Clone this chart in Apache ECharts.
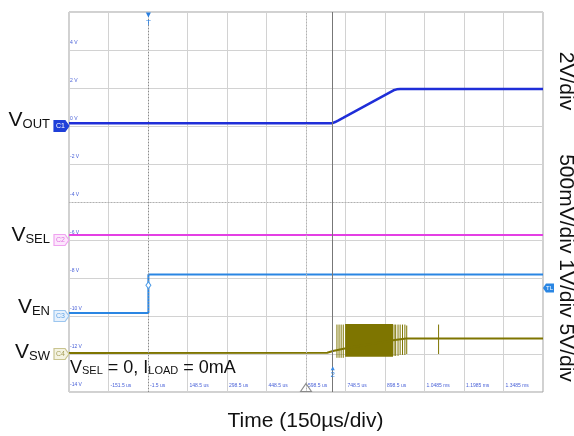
<!DOCTYPE html>
<html><head><meta charset="utf-8">
<script src="https://cdn.jsdelivr.net/npm/echarts@6/dist/echarts.min.js"></script>
<style>html,body{margin:0;padding:0;background:#fff}#c{width:574px;height:436px}</style>
</head><body><div id="c"></div>
<script>
// ---------- data (read from the scope capture) ----------
const timeMin = -301.5, timeMax = 1498.5, timeStep = 150;   // µs, 150 µs/div
const voltMin = -14, voltMax = 6, voltStep = 2;             // screen volts, 2 V/div
const xTickLabels = ['', '-151.5 us', '-1.5 us', '148.5 us', '298.5 us', '448.5 us', '598.5 us',
                     '748.5 us', '898.5 us', '1.0485 ms', '1.1985 ms', '1.3485 ms', ''];
const yTickLabels = ['-14 V', '-12 V', '-10 V', '-8 V', '-6 V', '-4 V', '-2 V', '0 V', '2 V', '4 V', ''];

const voutTime = [-301.5, 699, 709, 722, 741, 931, 943, 956, 1498.5];
const voutVal  = [0.15, 0.15, 0.21, 0.30, 0.44, 1.88, 1.93, 1.95, 1.95];
const vselTime = [-301.5, 1498.5];
const vselVal  = [-5.74, -5.74];
const venTime  = [-301.5, 0, 0, 1498.5];
const venVal   = [-9.84, -9.84, -7.81, -7.81];
const vswTime  = [-301.5, 679, 701, 741, 929, 979, 1498.5];
const vswVal   = [-11.95, -11.93, -11.84, -11.72, -11.28, -11.19, -11.19];
const burstStart = 747, burstEnd = 929, burstHigh = -10.42, burstLow = -12.15;
const spikeTime = [716, 724, 732, 740, 933, 939, 948, 956, 965, 974, 981, 1102];
const spikeHigh = [-10.45, -10.45, -10.45, -10.45, -10.45, -10.45, -10.45, -10.45, -10.45, -10.45, -10.5, -10.45];
const spikeLow  = [-12.2, -12.2, -12.2, -12.2, -12.1, -12.1, -12.1, -12.05, -12.05, -12.05, -12.0, -12.0];

const channelNames  = ['C1', 'C2', 'C3', 'C4'];
const channelGround = [0, -6, -10, -12];
const triggerTime = 0, triggerLevel = -8.38, triggerLevelTag = -8.52;
const cursorTime = 700, cursorTag = -12.75;
const centerTime = (timeMin + timeMax) / 2, centerVolt = (voltMin + voltMax) / 2;

// ---------- styles ----------
const FONT = 'Liberation Sans, Arial, sans-serif';
const C_OUT = '#1f2ed8', C_SEL = '#e43fe4', C_EN = '#2a86e3', C_SW = '#7e7500';
const zip = (a, b) => a.map((t, i) => [t, b[i]]);
const base = { type: 'line', symbol: 'none', showSymbol: false, silent: true, animation: false };
const boxPath = 'path://M0,0L11,0L15,5.5L11,11L0,11Z';
function chMark(i, fill, stroke, txt) {
  return { coord: [timeMin, channelGround[i]], symbol: boxPath, symbolSize: [15, 11], symbolOffset: [-7.5, 0],
    itemStyle: { color: fill, borderColor: stroke, borderWidth: 1 },
    label: { show: true, formatter: channelNames[i], color: txt, fontSize: 7, fontFamily: FONT, offset: [-1, 0] } };
}
const mpBase = { silent: true, animation: false };

const chart = echarts.init(document.getElementById('c'), null, { renderer: 'canvas' });
chart.setOption({
  animation: false,
  backgroundColor: '#fff',
  textStyle: { fontFamily: FONT },
  grid: { left: 69, top: 12, right: 31, bottom: 44, show: true, borderColor: '#a3a3a3', borderWidth: 1, backgroundColor: '#fff' },
  xAxis: {
    type: 'value', min: timeMin, max: timeMax, interval: timeStep,
    axisLine: { show: false }, axisTick: { show: false },
    splitLine: { show: true, lineStyle: { color: '#d2d2d2', width: 1 } },
    axisLabel: { inside: true, showMinLabel: false, showMaxLabel: false, align: 'left', margin: 4,
      padding: [0, 0, 0, 2], fontSize: 5, color: '#4a62d8',
      formatter: v => xTickLabels[Math.round((v - timeMin) / timeStep)] || '' }
  },
  yAxis: {
    type: 'value', min: voltMin, max: voltMax, interval: voltStep,
    axisLine: { show: false }, axisTick: { show: false },
    splitLine: { show: true, lineStyle: { color: '#d2d2d2', width: 1 } },
    axisLabel: { inside: true, showMaxLabel: false, margin: 1, verticalAlign: 'bottom',
      padding: [0, 0, 5, 0], fontSize: 5, color: '#4a62d8',
      formatter: v => yTickLabels[Math.round((v - voltMin) / voltStep)] || '' }
  },
  series: [
    { ...base, name: 'grid marks', data: [],
      markLine: { ...mpBase, symbol: ['none', 'none'], label: { show: false },
        data: [
          { xAxis: centerTime, lineStyle: { color: '#b0b0b0', type: [1, 2], width: 1 } },
          { yAxis: centerVolt, lineStyle: { color: '#b0b0b0', type: [1, 2], width: 1 } },
          { xAxis: triggerTime, lineStyle: { color: '#8a8a8a', type: [1, 2], width: 1 } },
          { xAxis: cursorTime, lineStyle: { color: '#777', type: 'solid', width: 1 } }
        ] } },
    { ...base, name: 'VSW', data: zip(vswTime, vswVal), lineStyle: { color: C_SW, width: 2 },
      markArea: { ...mpBase, itemStyle: { color: C_SW, opacity: 1 },
        data: [[{ coord: [burstStart, burstHigh] }, { coord: [burstEnd, burstLow] }]] },
      markPoint: { ...mpBase, data: [
        chMark(3, '#f4f3e2', '#c9c48f', '#a39c55'),
        { coord: [cursorTime, cursorTag], symbol: 'triangle', symbolSize: [4, 4], itemStyle: { color: '#3a8ae6' },
          label: { show: true, formatter: '2', position: 'bottom', distance: 1, fontSize: 8, color: '#3a8ae6' } },
        { coord: [centerTime, voltMin], symbol: 'triangle', symbolSize: [11, 8], symbolOffset: [0, -4.5],
          itemStyle: { color: 'rgba(255,255,255,0)', borderColor: '#8a8a8a', borderWidth: 1 }, label: { show: false } }
      ] } },
    { type: 'custom', name: 'VSW spikes', silent: true, animation: false,
      data: spikeTime.map((t, i) => [t, spikeLow[i], spikeHigh[i]]),
      encode: { x: 0, y: [1, 2] },
      renderItem: (params, api) => {
        const p1 = api.coord([api.value(0), api.value(1)]);
        const p2 = api.coord([api.value(0), api.value(2)]);
        return { type: 'line', shape: { x1: p1[0], y1: p1[1], x2: p2[0], y2: p2[1] },
          style: { stroke: C_SW, lineWidth: 1 } };
      } },
    { ...base, name: 'VSEL', data: zip(vselTime, vselVal), lineStyle: { color: C_SEL, width: 2 },
      markPoint: { ...mpBase, data: [chMark(1, '#fce6fc', '#f0a2f0', '#e070e0')] } },
    { ...base, name: 'VEN', data: zip(venTime, venVal), lineStyle: { color: C_EN, width: 2 },
      markPoint: { ...mpBase, data: [
        chMark(2, '#e7f1fc', '#9cc6ef', '#62a4e6'),
        { coord: [triggerTime, triggerLevel], symbol: 'diamond', symbolSize: [5, 7],
          itemStyle: { color: '#fff', borderColor: '#4d9be6', borderWidth: 1 }, label: { show: false } },
        { coord: [triggerTime, voltMax], symbol: 'triangle', symbolRotate: 180, symbolSize: [5, 5], symbolOffset: [0, 3],
          itemStyle: { color: '#2a7fe0' },
          label: { show: true, formatter: 'T', position: 'bottom', distance: 1, fontSize: 8, color: '#2a7fe0' } },
        { coord: [timeMax, triggerLevelTag], symbol: 'path://M4,0L15,0L15,11L4,11L0,5.5Z', symbolSize: [11, 9],
          symbolOffset: [5.5, 0], itemStyle: { color: '#2a86e3' },
          label: { show: true, formatter: 'TL', color: '#fff', fontSize: 6, offset: [1, 0] } }
      ] } },
    { ...base, name: 'VOUT', data: zip(voutTime, voutVal), lineStyle: { color: C_OUT, width: 2.5 },
      markPoint: { ...mpBase, data: [chMark(0, '#1f3fd8', '#1f3fd8', '#fff')] } }
  ],
  graphic: (function () {
    const rich = (big, small) => ({
      v: { fontSize: big, lineHeight: big, fontFamily: FONT, fill: '#111' },
      s: { fontSize: small, lineHeight: small, fontFamily: FONT, fill: '#111', verticalAlign: 'bottom' }
    });
    const lab = (y, sub) => ({ type: 'text', x: 50, y: y, silent: true,
      style: { text: '{v|V}{s|' + sub + '}', align: 'right', verticalAlign: 'middle', rich: rich(21, 13) } });
    return [
      lab(120.3, 'OUT'), lab(235, 'SEL'), lab(307.7, 'EN'), lab(352, 'SW'),
      { type: 'text', x: 70, y: 367.7, silent: true, z: 10,
        style: { text: '{v|V}{s|SEL}{v| = 0, I}{s|LOAD}{v| = 0mA}', align: 'left', verticalAlign: 'middle', rich: rich(18, 11) } },
      { type: 'text', x: 565.5, y: 81, rotation: -Math.PI / 2, silent: true,
        style: { text: '2V/div', fontSize: 21, fontFamily: FONT, fill: '#111', align: 'center', verticalAlign: 'middle' } },
      { type: 'text', x: 565.5, y: 268, rotation: -Math.PI / 2, silent: true,
        style: { text: '500mV/div 1V/div 5V/div', fontSize: 21, fontFamily: FONT, fill: '#111', align: 'center', verticalAlign: 'middle' } },
      { type: 'text', x: 305.5, y: 421, silent: true,
        style: { text: 'Time (150µs/div)', fontSize: 21, fontFamily: FONT, fill: '#111', align: 'center', verticalAlign: 'middle' } }
    ];
  })()
});
</script></body></html>
